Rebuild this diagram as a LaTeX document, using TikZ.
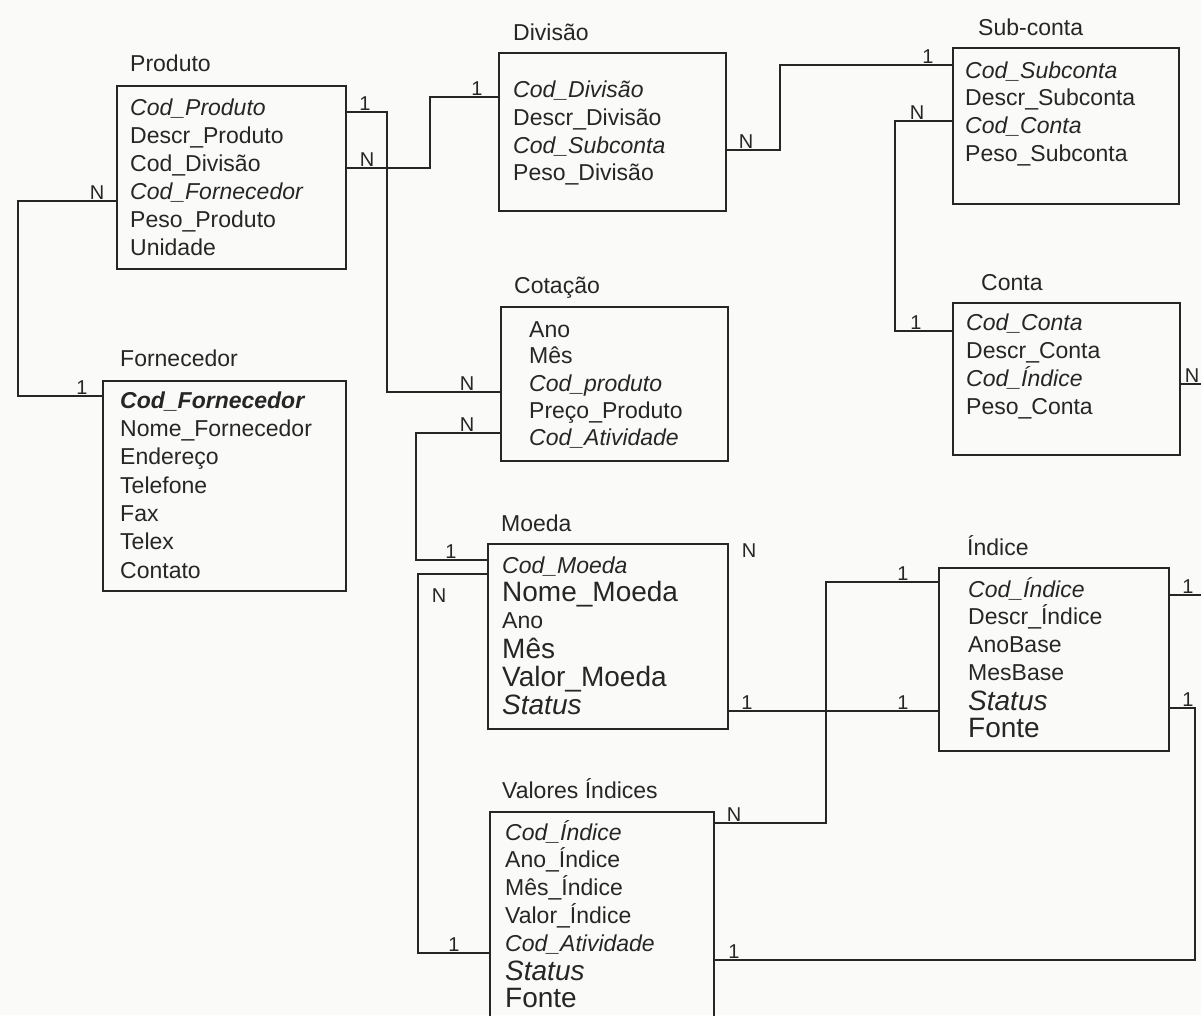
\documentclass[tikz,border=0pt]{standalone}
\usepackage{fontspec}
\setmainfont{Liberation Sans}
\definecolor{ink}{HTML}{262626}
\definecolor{paper}{HTML}{FAFAF8}
\begin{document}
\begin{tikzpicture}[x=1pt,y=-1pt,
  ebox/.style={draw=ink, line width=1.6pt, inner sep=0pt, anchor=north west},
  ttl/.style={anchor=base west, inner sep=0pt, text=ink, font=\fontsize{23}{26}\selectfont},
  fld/.style={anchor=base west, inner sep=0pt, text=ink, font=\fontsize{23}{26}\selectfont},
  fldi/.style={fld, font=\fontsize{23}{26}\selectfont\itshape},
  fldbi/.style={fld, font=\fontsize{23}{26}\selectfont\bfseries\itshape},
  big/.style={fld, font=\fontsize{28}{30}\selectfont},
  bigi/.style={fld, font=\fontsize{28}{30}\selectfont\itshape},
  conn/.style={draw=ink, line width=1.6pt},
  lbl/.style={anchor=base, inner sep=0pt, text=ink, font=\fontsize{20}{22}\selectfont}]
\fill[paper] (0,0) rectangle (1201,1015);
\useasboundingbox (0,0) rectangle (1201,1015);

% ---------- boxes ----------
\node[ebox, minimum width=229pt, minimum height=183pt] (produto) at (116,85) {};
\node[ebox, minimum width=227pt, minimum height=158pt] (divisao) at (498,52) {};
\node[ebox, minimum width=226pt, minimum height=156pt] (subconta) at (952,47) {};
\node[ebox, minimum width=227pt, minimum height=152pt] (conta) at (952,302) {};
\node[ebox, minimum width=227pt, minimum height=154pt] (cotacao) at (500,306) {};
\node[ebox, minimum width=243pt, minimum height=210pt] (fornecedor) at (102,380) {};
\node[ebox, minimum width=240pt, minimum height=185pt] (moeda) at (487,543) {};
\node[ebox, minimum width=230pt, minimum height=183pt] (indice) at (938,567) {};
\node[ebox, minimum width=224pt, minimum height=240pt] (valores) at (489,811) {};

% ---------- titles ----------
\node[ttl] (tprod) at (130,71) {Produto};
\node[ttl] (tdiv) at (513,40) {Divisão};
\node[ttl] (tsub) at (978,35) {Sub-conta};
\node[ttl] (tconta) at (981,290) {Conta};
\node[ttl] (tcot) at (514,293) {Cotação};
\node[ttl] (tforn) at (120,366) {Fornecedor};
\node[ttl] (tmoeda) at (501,531) {Moeda};
\node[ttl] (tind) at (967,555) {Índice};
\node[ttl] (tval) at (502,798) {Valores Índices};

% ---------- Produto ----------
\node[fldi] (p1) at (130,115) {Cod\_Produto};
\node[fld]  (p2) at (130,143) {Descr\_Produto};
\node[fld]  (p3) at (130,171) {Cod\_Divisão};
\node[fldi] (p4) at (130,199) {Cod\_Fornecedor};
\node[fld]  (p5) at (130,227) {Peso\_Produto};
\node[fld]  (p6) at (130,255) {Unidade};

% ---------- Divisão ----------
\node[fldi] (d1) at (513,97) {Cod\_Divisão};
\node[fld]  (d2) at (513,125) {Descr\_Divisão};
\node[fldi] (d3) at (513,153) {Cod\_Subconta};
\node[fld]  (d4) at (513,180) {Peso\_Divisão};

% ---------- Sub-conta ----------
\node[fldi] (s1) at (965,78) {Cod\_Subconta};
\node[fld]  (s2) at (965,105) {Descr\_Subconta};
\node[fldi] (s3) at (965,133) {Cod\_Conta};
\node[fld]  (s4) at (965,161) {Peso\_Subconta};

% ---------- Conta ----------
\node[fldi] (c1) at (966,330) {Cod\_Conta};
\node[fld]  (c2) at (966,358) {Descr\_Conta};
\node[fldi] (c3) at (966,386) {Cod\_Índice};
\node[fld]  (c4) at (966,414) {Peso\_Conta};

% ---------- Cotação ----------
\node[fld]  (k1) at (529,337) {Ano};
\node[fld]  (k2) at (529,363) {Mês};
\node[fldi] (k3) at (529,391) {Cod\_produto};
\node[fld]  (k4) at (529,418) {Preço\_Produto};
\node[fldi] (k5) at (529,445) {Cod\_Atividade};

% ---------- Fornecedor ----------
\node[fldbi] (f1) at (120,408) {Cod\_Fornecedor};
\node[fld]  (f2) at (120,436) {Nome\_Fornecedor};
\node[fld]  (f3) at (120,464) {Endereço};
\node[fld]  (f4) at (120,493) {Telefone};
\node[fld]  (f5) at (120,521) {Fax};
\node[fld]  (f6) at (120,549) {Telex};
\node[fld]  (f7) at (120,578) {Contato};

% ---------- Moeda ----------
\node[fldi] (m1) at (502,573) {Cod\_Moeda};
\node[big]  (m2) at (502,601) {Nome\_Moeda};
\node[fld]  (m3) at (502,628) {Ano};
\node[big]  (m4) at (502,658) {Mês};
\node[big]  (m5) at (502,686) {Valor\_Moeda};
\node[bigi] (m6) at (502,714) {Status};

% ---------- Índice ----------
\node[fldi] (i1) at (968,597) {Cod\_Índice};
\node[fld]  (i2) at (968,624) {Descr\_Índice};
\node[fld]  (i3) at (968,652) {AnoBase};
\node[fld]  (i4) at (968,680) {MesBase};
\node[bigi] (i5) at (968,710) {Status};
\node[big]  (i6) at (968,737) {Fonte};

% ---------- Valores Índices ----------
\node[fldi] (v1) at (505,840) {Cod\_Índice};
\node[fld]  (v2) at (505,867) {Ano\_Índice};
\node[fld]  (v3) at (505,895) {Mês\_Índice};
\node[fld]  (v4) at (505,923) {Valor\_Índice};
\node[fldi] (v5) at (505,951) {Cod\_Atividade};
\node[bigi] (v6) at (505,980) {Status};
\node[big]  (v7) at (505,1007) {Fonte};

% ---------- connectors ----------
\coordinate (contaout) at (1210,384);
\coordinate (indout) at (1210,595);
\draw[conn] (produto.east |- 0,112) -| (387,392) -- (cotacao.west |- 0,392);
\draw[conn] (produto.east |- 0,168) -| (430,97) -- (divisao.west |- 0,97);
\draw[conn] (produto.west |- 0,201) -| (18,396) -- (fornecedor.west |- 0,396);
\draw[conn] (divisao.east |- 0,150) -| (780,65) -- (subconta.west |- 0,65);
\draw[conn] (subconta.west |- 0,121) -| (895,331) -- (conta.west |- 0,331);
\draw[conn] (conta.east |- 0,384) -- (contaout);
\draw[conn] (cotacao.west |- 0,433) -| (416,560) -- (moeda.west |- 0,560);
\draw[conn] (moeda.west |- 0,574) -| (418,953) -- (valores.west |- 0,953);
\draw[conn] (moeda.east |- 0,711) -- (indice.west |- 0,711);
\draw[conn] (indice.west |- 0,582) -| (826,823) -- (valores.east |- 0,823);
\draw[conn] (indice.east |- 0,595) -- (indout);
\draw[conn] (indice.east |- 0,708) -| (1195,960) -- (valores.east |- 0,960);

% ---------- cardinality labels ----------
\node[lbl] (l1) at (365,110) {1};
\node[lbl] (l2) at (367,166) {N};
\node[lbl] (l3) at (467,390) {N};
\node[lbl] (l4) at (467,431) {N};
\node[lbl] (l5) at (477,95) {1};
\node[lbl] (l6) at (746,148) {N};
\node[lbl] (l7) at (928,63) {1};
\node[lbl] (l8) at (917,119) {N};
\node[lbl] (l9) at (916,329) {1};
\node[lbl] (l10) at (97,199) {N};
\node[lbl] (l11) at (82,394) {1};
\node[lbl] (l12) at (451,558) {1};
\node[lbl] (l13) at (439,602) {N};
\node[lbl] (l14) at (749,557) {N};
\node[lbl] (l15) at (747,709) {1};
\node[lbl] (l16) at (903,580) {1};
\node[lbl] (l17) at (903,709) {1};
\node[lbl] (l18) at (1188,593) {1};
\node[lbl] (l19) at (1188,706) {1};
\node[lbl] (l20) at (734,821) {N};
\node[lbl] (l21) at (454,951) {1};
\node[lbl] (l22) at (734,958) {1};
\node[lbl] (l23) at (1192,382) {N};
\end{tikzpicture}
\end{document}
